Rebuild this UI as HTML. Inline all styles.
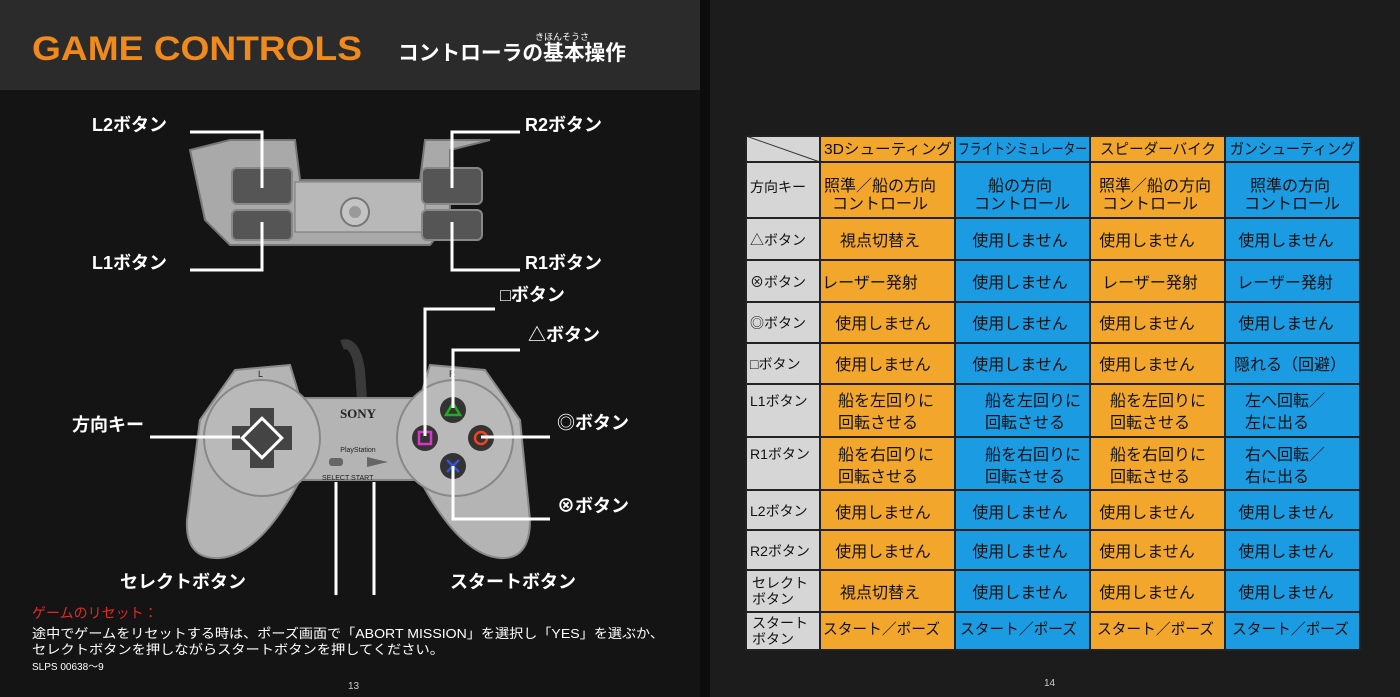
<!DOCTYPE html>
<html><head><meta charset="utf-8"><style>
html,body{margin:0;padding:0;background:#111;}
svg{display:block;font-family:"Liberation Sans","Noto Sans CJK JP",sans-serif;}
</style></head><body>
<svg width="1400" height="697" viewBox="0 0 1400 697" xmlns="http://www.w3.org/2000/svg">
<rect x="0" y="0" width="1400" height="697" fill="#161616"/>
<rect x="0" y="0" width="705" height="90" fill="#2b2b2b"/>
<rect x="0" y="90" width="705" height="607" fill="#141414"/>
<rect x="705" y="0" width="695" height="697" fill="#1c1c1c"/>
<rect x="700" y="0" width="10" height="697" fill="#0c0c0c"/>
<text x="32" y="60" font-size="34" font-weight="900" fill="#f08a1c" font-family="Liberation Sans,sans-serif" textLength="330" lengthAdjust="spacingAndGlyphs">GAME CONTROLS</text>
<text x="398" y="60" font-size="21" font-weight="bold" fill="#fff" textLength="228" lengthAdjust="spacingAndGlyphs">コントローラの基本操作</text>
<text x="535" y="40" font-size="9" fill="#fff">きほんそうさ</text>

<g>
<path d="M190,150 L230,140 L295,140 L300,180 L420,180 L425,140 L490,140 L450,150 L450,220 L430,245 L230,245 L205,220 Z" fill="#a9a9a9" stroke="#777" stroke-width="2"/>
<rect x="295" y="182" width="130" height="50" fill="#b8b8b8" stroke="#777"/>
<circle cx="355" cy="212" r="14" fill="#c4c4c4" stroke="#777" stroke-width="2"/>
<circle cx="355" cy="212" r="6" fill="#999"/>
<rect x="232" y="168" width="60" height="36" rx="5" fill="#555" stroke="#888" stroke-width="2"/>
<rect x="232" y="210" width="60" height="30" rx="5" fill="#555" stroke="#888" stroke-width="2"/>
<rect x="422" y="168" width="60" height="36" rx="5" fill="#555" stroke="#888" stroke-width="2"/>
<rect x="422" y="210" width="60" height="30" rx="5" fill="#555" stroke="#888" stroke-width="2"/>
</g>
<g stroke="#fff" stroke-width="3" fill="none">
<polyline points="190,132 262,132 262,188"/>
<polyline points="262,222 262,270 190,270"/>
<polyline points="520,132 452,132 452,188"/>
<polyline points="452,222 452,270 520,270"/>
</g>
<g font-size="18" font-weight="bold" fill="#fff">
<text x="92" y="131">L2ボタン</text>
<text x="92" y="269">L1ボタン</text>
<text x="525" y="131">R2ボタン</text>
<text x="525" y="269">R1ボタン</text>
<text x="500" y="301">□ボタン</text>
<text x="528" y="341">△ボタン</text>
<text x="557" y="429">◎ボタン</text>
<text x="557" y="512">⊗ボタン</text>
<text x="72" y="431">方向キー</text>
<text x="120" y="588">セレクトボタン</text>
<text x="450" y="588">スタートボタン</text>
</g>

<g>
<path d="M342,345 Q355,340 360,370 L362,400" stroke="#3a3a3a" stroke-width="10" fill="none"/>
<path d="M235,370 L290,365 L300,398 L420,398 L430,365 L485,370 L520,420 L530,520 Q530,560 500,558 Q460,555 420,480 L300,480 Q260,555 220,558 Q185,560 187,520 L200,420 Z" fill="#b4b4b4" stroke="#888" stroke-width="2"/>
<circle cx="262" cy="438" r="58" fill="#b9b9b9" stroke="#888" stroke-width="2"/>
<circle cx="455" cy="438" r="58" fill="#b9b9b9" stroke="#888" stroke-width="2"/>
<rect x="250" y="408" width="24" height="60" fill="#444"/>
<rect x="232" y="426" width="60" height="24" fill="#444"/>
<rect x="248" y="424" width="28" height="28" fill="none" stroke="#fff" stroke-width="3" transform="rotate(45 262 438)"/>
<text x="358" y="418" font-size="13" font-weight="bold" fill="#222" text-anchor="middle" font-family="Liberation Serif,serif">SONY</text>
<text x="358" y="452" font-size="7" fill="#222" text-anchor="middle">PlayStation</text>
<rect x="329" y="458" width="14" height="8" rx="3" fill="#666"/>
<path d="M367,457 L388,462 L367,467 Z" fill="#666"/>
<text x="322" y="480" font-size="7" fill="#222">SELECT  START</text>
<text x="258" y="377" font-size="9" fill="#222">L</text>
<text x="449" y="377" font-size="9" fill="#222">R</text>
<circle cx="453" cy="410" r="13" fill="#333"/><path d="M446,415 L453,403 L460,415 Z" stroke="#2a2" stroke-width="2.5" fill="none"/>
<circle cx="425" cy="438" r="13" fill="#333"/><rect x="419" y="432" width="12" height="12" stroke="#d3c" stroke-width="2.5" fill="none"/>
<circle cx="481" cy="438" r="13" fill="#333"/><circle cx="481" cy="438" r="6" stroke="#e42" stroke-width="2.5" fill="none"/>
<circle cx="453" cy="466" r="13" fill="#333"/><path d="M447,460 L459,472 M459,460 L447,472" stroke="#35d" stroke-width="2.5"/>
</g>
<g stroke="#fff" stroke-width="3" fill="none">
<polyline points="495,309 425,309 425,436"/>
<polyline points="520,350 453,350 453,408"/>
<polyline points="481,437 550,437"/>
<polyline points="453,466 453,519 550,519"/>
<polyline points="150,437 240,437"/>
<polyline points="336,482 336,595"/>
<polyline points="374,482 374,595"/>
</g>
<text x="32" y="618" font-size="14" fill="#e02a2a">ゲームのリセット：</text>
<text x="32" y="638" font-size="13" fill="#fff" textLength="632" lengthAdjust="spacingAndGlyphs">途中でゲームをリセットする時は、ポーズ画面で「ABORT MISSION」を選択し「YES」を選ぶか、</text>
<text x="32" y="654" font-size="13" fill="#fff" textLength="412" lengthAdjust="spacingAndGlyphs">セレクトボタンを押しながらスタートボタンを押してください。</text>
<text x="32" y="670" font-size="10" fill="#fff">SLPS 00638〜9</text>
<text x="348" y="689" font-size="10" fill="#ccc">13</text>
<text x="1044" y="686" font-size="10" fill="#ccc">14</text>

<g>
<rect x="746" y="136" width="74" height="514" fill="#d6d6d6"/>
<rect x="820" y="136" width="135" height="514" fill="#f2a72c"/>
<rect x="955" y="136" width="135" height="514" fill="#1b9be2"/>
<rect x="1090" y="136" width="135" height="514" fill="#f2a72c"/>
<rect x="1225" y="136" width="135" height="514" fill="#1b9be2"/>
<line x1="746" y1="136" x2="820" y2="162" stroke="#333" stroke-width="1"/>
<g stroke="#222" stroke-width="2">
<line x1="746" y1="136" x2="1360" y2="136"/>
<line x1="746" y1="162" x2="1360" y2="162"/>
<line x1="746" y1="218" x2="1360" y2="218"/>
<line x1="746" y1="260" x2="1360" y2="260"/>
<line x1="746" y1="302" x2="1360" y2="302"/>
<line x1="746" y1="343" x2="1360" y2="343"/>
<line x1="746" y1="384" x2="1360" y2="384"/>
<line x1="746" y1="437" x2="1360" y2="437"/>
<line x1="746" y1="490" x2="1360" y2="490"/>
<line x1="746" y1="530" x2="1360" y2="530"/>
<line x1="746" y1="570" x2="1360" y2="570"/>
<line x1="746" y1="612" x2="1360" y2="612"/>
<line x1="746" y1="650" x2="1360" y2="650"/>
<line x1="746" y1="136" x2="746" y2="650"/>
<line x1="820" y1="136" x2="820" y2="650"/>
<line x1="955" y1="136" x2="955" y2="650"/>
<line x1="1090" y1="136" x2="1090" y2="650"/>
<line x1="1225" y1="136" x2="1225" y2="650"/>
<line x1="1360" y1="136" x2="1360" y2="650"/>
</g>
<g font-size="15" fill="#111">
<text x="824" y="154" textLength="128" lengthAdjust="spacingAndGlyphs">3Dシューティング</text>
<text x="958" y="154" textLength="129" lengthAdjust="spacingAndGlyphs">フライトシミュレーター</text>
<text x="1100" y="154" textLength="116" lengthAdjust="spacingAndGlyphs">スピーダーバイク</text>
<text x="1230" y="154" textLength="125" lengthAdjust="spacingAndGlyphs">ガンシューティング</text>
<text x="750" y="192" font-size="14">方向キー</text>
<text x="750" y="245" font-size="14">△ボタン</text>
<text x="750" y="287" font-size="14">⊗ボタン</text>
<text x="750" y="328" font-size="14">◎ボタン</text>
<text x="750" y="369" font-size="14">□ボタン</text>
<text x="750" y="406" font-size="14">L1ボタン</text>
<text x="750" y="459" font-size="14">R1ボタン</text>
<text x="750" y="516" font-size="14">L2ボタン</text>
<text x="750" y="556" font-size="14">R2ボタン</text>
<text x="752" y="588" font-size="14">セレクト</text><text x="752" y="604" font-size="14">ボタン</text>
<text x="752" y="628" font-size="14">スタート</text><text x="752" y="644" font-size="14">ボタン</text>
</g>
<g font-size="16" fill="#111" text-anchor="middle">
<text x="880" y="191">照準／船の方向</text><text x="880" y="209">コントロール</text>
<text x="1020" y="191">船の方向</text><text x="1022" y="209">コントロール</text>
<text x="1155" y="191">照準／船の方向</text><text x="1150" y="209">コントロール</text>
<text x="1290" y="191">照準の方向</text><text x="1292" y="209">コントロール</text>
<text x="880" y="246">視点切替え</text><text x="1020" y="246">使用しません</text><text x="1147" y="246">使用しません</text><text x="1286" y="246">使用しません</text>
<text x="870" y="288">レーザー発射</text><text x="1020" y="288">使用しません</text><text x="1150" y="288">レーザー発射</text><text x="1285" y="288">レーザー発射</text>
<text x="883" y="329">使用しません</text><text x="1020" y="329">使用しません</text><text x="1147" y="329">使用しません</text><text x="1286" y="329">使用しません</text>
<text x="883" y="370">使用しません</text><text x="1020" y="370">使用しません</text><text x="1147" y="370">使用しません</text><text x="1290" y="370">隠れる（回避）</text>
</g>
<g font-size="16" fill="#111">
<text x="838" y="406">船を左回りに</text><text x="838" y="428">回転させる</text>
<text x="985" y="406">船を左回りに</text><text x="985" y="428">回転させる</text>
<text x="1110" y="406">船を左回りに</text><text x="1110" y="428">回転させる</text>
<text x="1245" y="406">左へ回転／</text><text x="1245" y="428">左に出る</text>
<text x="838" y="460">船を右回りに</text><text x="838" y="482">回転させる</text>
<text x="985" y="460">船を右回りに</text><text x="985" y="482">回転させる</text>
<text x="1110" y="460">船を右回りに</text><text x="1110" y="482">回転させる</text>
<text x="1245" y="460">右へ回転／</text><text x="1245" y="482">右に出る</text>
</g>
<g font-size="16" fill="#111" text-anchor="middle">
<text x="883" y="518">使用しません</text><text x="1020" y="518">使用しません</text><text x="1147" y="518">使用しません</text><text x="1286" y="518">使用しません</text>
<text x="883" y="557">使用しません</text><text x="1020" y="557">使用しません</text><text x="1147" y="557">使用しません</text><text x="1286" y="557">使用しません</text>
<text x="880" y="598">視点切替え</text><text x="1020" y="598">使用しません</text><text x="1147" y="598">使用しません</text><text x="1286" y="598">使用しません</text>
</g>
<g font-size="15" fill="#111">
<text x="823" y="634" textLength="117" lengthAdjust="spacingAndGlyphs">スタート／ポーズ</text>
<text x="960" y="634" textLength="117" lengthAdjust="spacingAndGlyphs">スタート／ポーズ</text>
<text x="1097" y="634" textLength="117" lengthAdjust="spacingAndGlyphs">スタート／ポーズ</text>
<text x="1232" y="634" textLength="117" lengthAdjust="spacingAndGlyphs">スタート／ポーズ</text>
</g>
</g>
</svg>
</body></html>
